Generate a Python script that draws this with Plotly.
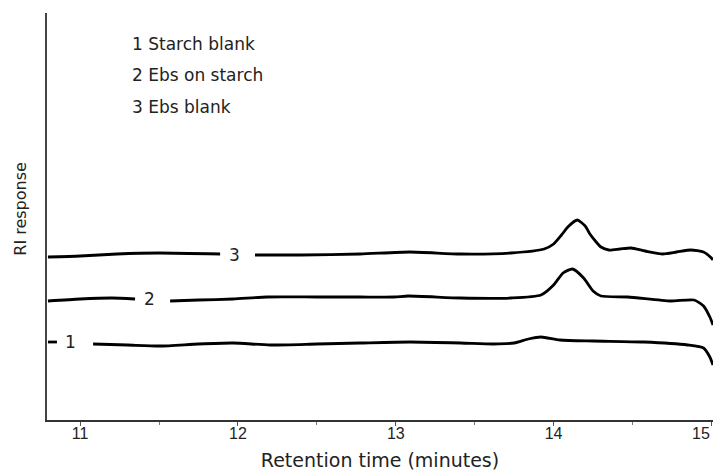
import plotly.graph_objects as go

# Retention time (minutes) and RI response (arbitrary units); None = gap for inline label
t1 = [10.796, 10.853, None, 11.082, 11.3, 11.506, 11.75, 11.969, 12.204, 12.5, 12.774, 13.09, 13.41,
      13.62, 13.75, 13.84, 13.92, 14.04, 14.25, 14.57, 14.85, 14.95, 14.99, 15.01]
r1 = [76, 76, None, 74, 73, 72, 74, 75, 73, 74, 75, 76, 75,
      74, 75, 79, 81, 78, 77, 76, 73, 70, 61, 53]

t2 = [10.796, 11.0, 11.2, 11.348, None, 11.57, 11.75, 11.969, 12.185, 12.5, 12.774, 12.99, 13.08,
      13.41, 13.73, 13.92, 14.0, 14.06, 14.12, 14.19, 14.25, 14.30, 14.47, 14.74, 14.89,
      14.95, 14.99, 15.01]
r2 = [117, 119, 120, 119, None, 117, 118, 119, 121, 121, 121, 121, 122,
      120, 120, 123, 133, 145, 149, 140, 127, 122, 121, 117, 118,
      112, 101, 93]

t3 = [10.796, 11.0, 11.234, 11.5, 11.887, None, 12.108, 12.4, 12.774, 13.09, 13.41, 13.73, 13.94,
      14.0, 14.05, 14.09, 14.15, 14.2, 14.23, 14.27, 14.30, 14.35, 14.42, 14.49, 14.58,
      14.69, 14.78, 14.87, 14.95, 15.0, 15.01]
r3 = [161, 162, 164, 165, 164, None, 163, 163, 164, 166, 164, 165, 169,
      174, 183, 191, 198, 192, 184, 176, 171, 168, 169, 170, 167,
      164, 166, 168, 166, 160, 158]

series_t = [t1, t2, t3]
series_r = [r1, r2, r3]
labels = ["1", "2", "3"]
label_pos = [(10.942, 76), (11.437, 119), (11.98, 163)]
legend_lines = ["1 Starch blank", "2 Ebs on starch", "3 Ebs blank"]
tick_vals = [11, 12, 13, 14, 15]
tick_text = ["11", "12", "13", "14", "15"]

tick_font = dict(family="Liberation Sans Narrow, Arial Narrow, Liberation Sans, sans-serif",
                 size=16, color="#222")

fig = go.Figure()
for t, r in zip(series_t, series_r):
    fig.add_trace(go.Scatter(x=t, y=r, mode="lines", connectgaps=False,
                             line=dict(color="black", width=2.8, shape="spline", smoothing=0.6),
                             showlegend=False, hoverinfo="skip"))

font_main = "DejaVu Sans, Verdana, sans-serif"
for lab, (lx, ly) in zip(labels, label_pos):
    fig.add_annotation(x=lx, y=ly, text=lab, showarrow=False, xanchor="center", yanchor="middle",
                       font=dict(family=font_main, size=17, color="#222"))

for i, txt in enumerate(legend_lines):
    fig.add_annotation(x=0.1246, y=0.923 - i * 0.0765, xref="paper", yref="paper", text=txt,
                       showarrow=False, xanchor="left", yanchor="middle",
                       font=dict(family=font_main, size=17, color="#222"))

fig.add_annotation(x=-0.04, y=0.52, xref="paper", yref="paper", text="RI response",
                   textangle=-90, showarrow=False, xanchor="center", yanchor="middle",
                   font=dict(family=font_main, size=16, color="#222"))

# last tick label sits flush against the right edge (right-aligned to its tick), as in the reference
fig.add_annotation(x=tick_vals[-1], y=0, xref="x", yref="paper", text=tick_text[-1],
                   showarrow=False, xanchor="right", yanchor="middle", yshift=-13, xshift=1,
                   font=tick_font)

fig.update_layout(
    width=714, height=475,
    margin=dict(l=47, r=1, t=13, b=55),
    plot_bgcolor="white", paper_bgcolor="white",
    xaxis=dict(range=[10.79, 15.01], tickvals=tick_vals, ticktext=tick_text[:-1] + [""],
               automargin=False, ticklabelstandoff=-6,
               showline=True, linewidth=2, linecolor="#333", showgrid=False, zeroline=False,
               ticks="outside", ticklen=4, tickwidth=1, tickcolor="#555",
               minor=dict(dtick=0.5, tick0=10.5, ticks="outside", ticklen=3, tickcolor="#777"),
               tickfont=tick_font,
               title=dict(text="Retention time (minutes)", standoff=12,
                          font=dict(family=font_main, size=19, color="#222"))),
    yaxis=dict(range=[-2, 405], showline=True, linewidth=1.5, linecolor="#444",
               showgrid=False, zeroline=False, showticklabels=False, ticks="", automargin=False),
)

fig.write_html("out.html")
